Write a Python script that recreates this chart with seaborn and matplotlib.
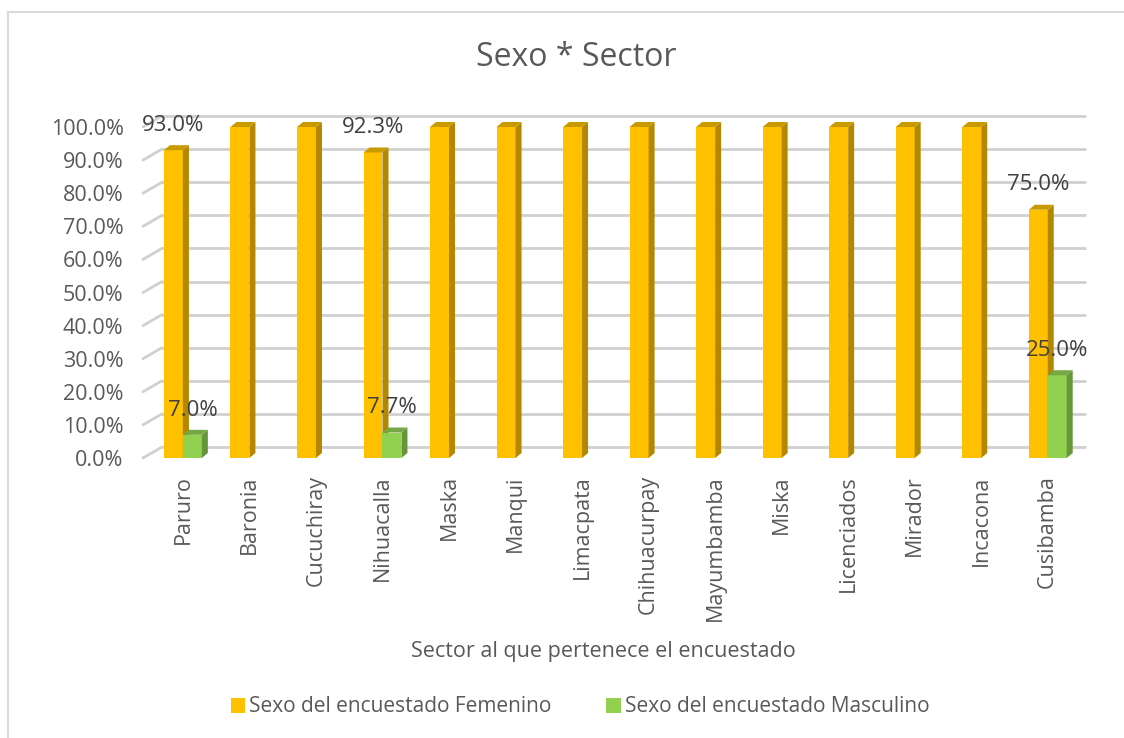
import numpy as np
import pandas as pd
import matplotlib
matplotlib.use("Agg")
import matplotlib.pyplot as plt
from matplotlib.patches import Polygon, Rectangle
import seaborn as sns

# data (percent)
sectores = ["Paruro", "Baronia", "Cucuchiray", "Nihuacalla", "Maska", "Manqui",
            "Limacpata", "Chihuacurpay", "Mayumbamba", "Miska", "Licenciados",
            "Mirador", "Incacona", "Cusibamba"]
femenino = [93.0, 100, 100, 92.3, 100, 100, 100, 100, 100, 100, 100, 100, 100, 75.0]
masculino = [7.0, 0, 0, 7.7, 0, 0, 0, 0, 0, 0, 0, 0, 0, 25.0]
series = ["Sexo del encuestado Femenino", "Sexo del encuestado Masculino"]
yticks = [0, 10, 20, 30, 40, 50, 60, 70, 80, 90, 100]

df = pd.DataFrame({"Sector": sectores, series[0]: femenino, series[1]: masculino})
df = df.melt(id_vars="Sector", var_name="serie", value_name="pct")

front = {series[0]: "#FFC000", series[1]: "#92D050"}
side = {series[0]: "#B38700", series[1]: "#67963A"}
top = {series[0]: "#C99A00", series[1]: "#74A842"}
txt = "#595959"

sns.set_theme(style="white")
plt.rcParams["font.family"] = ["Open Sans", "DejaVu Sans"]

fig = plt.figure(figsize=(11.24, 7.38), dpi=100)
ax = fig.add_axes([143 / 1124, 1 - 458 / 738, (1085 - 143) / 1124, 331 / 738])

sns.barplot(data=df, x="Sector", y="pct", hue="serie", hue_order=series,
            palette=front, width=0.57, saturation=1, ax=ax, legend=True,
            edgecolor="none", linewidth=0, zorder=3)

ax.set_xlim(-0.6, 13.56)
ax.set_ylim(0, 100)

# pixel -> data conversions for the fake depth
px_x = 14.16 / 942
px_y = 100 / 331
dx, dy = 6 * px_x, 5 * px_y

# 3D side / top faces
for i, s in enumerate(series):
    cont = ax.containers[i]
    for p in cont.patches:
        h = p.get_height()
        if h <= 0:
            continue
        x0, w = p.get_x(), p.get_width()
        z = 3 + i
        p.set_zorder(z)
        ax.add_patch(Polygon([(x0 + w, 0), (x0 + w + dx, dy), (x0 + w + dx, h + dy), (x0 + w, h)],
                             closed=True, facecolor=side[s], edgecolor="none", zorder=z,
                             clip_on=False))
        ax.add_patch(Polygon([(x0, h), (x0 + dx, h + dy), (x0 + w + dx, h + dy), (x0 + w, h)],
                             closed=True, facecolor=top[s], edgecolor="none", zorder=z,
                             clip_on=False))

# back-wall gridlines with slanted floor ticks
gx0 = 19 / 942
gdy = 11 * px_y
tr = ax.get_yaxis_transform()
for t in yticks:
    ax.plot([0, gx0], [t, t + gdy], transform=tr, color="#D0D0D0", lw=2,
            clip_on=False, zorder=1, solid_capstyle="round")
    ax.plot([gx0, 1], [t + gdy, t + gdy], transform=tr, color="#D0D0D0", lw=2,
            clip_on=False, zorder=1)

# data labels (values below 100%)
for i, s in enumerate(series):
    for p in ax.containers[i].patches:
        h = p.get_height()
        if 0 < h < 100:
            ax.text(p.get_x() + p.get_width() / 2, h + 7.5, f"{h:.1f}%", ha="center",
                    va="center", fontsize=16, color="#404040", zorder=10, clip_on=False)

ax.set_yticks(yticks)
ax.set_yticklabels([f"{t:.1f}%" for t in yticks], fontsize=15.5, color=txt)
ax.set_xticks(range(len(sectores)))
ax.set_xticklabels(sectores, rotation=90, fontsize=15.5, color=txt)
ax.tick_params(axis="y", length=0, pad=14)
ax.tick_params(axis="x", length=0, pad=12.5)
for sp in ax.spines.values():
    sp.set_visible(False)
ax.set_xlabel("")
ax.set_ylabel("")

fig.text(0.537, 1 - 652 / 738, "Sector al que pertenece el encuestado", ha="center",
         va="center", fontsize=15.5, color=txt)
fig.text(0.513, 1 - 57 / 738, "Sexo * Sector", ha="center", va="center",
         fontsize=23, color=txt)

handles, labels = ax.get_legend_handles_labels()
ax.legend_.remove()
fig.legend(handles, labels, loc="center", bbox_to_anchor=(0.516, 1 - 707 / 738),
           ncol=2, frameon=False, fontsize=15, labelcolor=txt, handlelength=0.7,
           handleheight=0.7, handletextpad=0.2, columnspacing=2.6)

# chart frame
fig.patches.append(Rectangle((8 / 1124, -0.1), 1.2, 1 - 12 / 738 + 0.1, transform=fig.transFigure,
                             fill=False, edgecolor="#D9D9D9", lw=1.5))

fig.savefig("out.png", dpi=100)
